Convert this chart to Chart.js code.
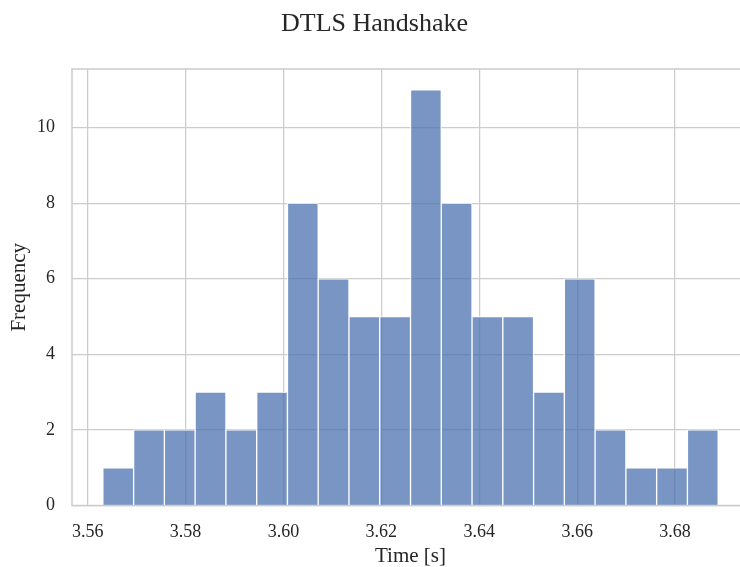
<!DOCTYPE html>
<html>
<head>
<meta charset="utf-8">
<title>DTLS Handshake</title>
<script src="https://cdn.jsdelivr.net/npm/chart.js@4.4.1/dist/chart.umd.min.js"></script>
<style>
  html, body { margin: 0; padding: 0; background: #fff; overflow: hidden; }
  #wrap { width: 760px; height: 567px; }
</style>
</head>
<body>
<div id="wrap"><canvas id="hist"></canvas></div>
<script>
// DTLS handshake durations, 20-bin histogram
const binEdges = [3.56310, 3.56939, 3.57567, 3.58196, 3.58824, 3.59453, 3.60081,
                  3.60710, 3.61338, 3.61967, 3.62595, 3.63224, 3.63852, 3.64481,
                  3.65109, 3.65738, 3.66366, 3.66995, 3.67623, 3.68252, 3.68880];
const counts = [1, 2, 2, 3, 2, 3, 8, 6, 5, 5, 11, 8, 5, 5, 3, 6, 2, 1, 1, 2];
const xTicks = [3.56, 3.58, 3.60, 3.62, 3.64, 3.66, 3.68];
const yTicks = [0, 2, 4, 6, 8, 10];

const SERIF = "'Liberation Serif', 'DejaVu Serif', serif";
const INK = '#262626';
const GRID = '#cccccc';

// bars sit on bin centres of a linear x axis
const points = counts.map((c, i) => ({ x: (binEdges[i] + binEdges[i + 1]) / 2, y: c }));

// seaborn-style frame: light grey spines on all sides
const spines = {
  id: 'spines',
  afterDraw(chart) {
    const { ctx, chartArea: a } = chart;
    ctx.save();
    ctx.strokeStyle = GRID;
    ctx.lineWidth = 1.5;
    ctx.strokeRect(a.left, a.top, a.right - a.left, a.bottom - a.top);
    ctx.restore();
  }
};

new Chart(document.getElementById('hist'), {
  type: 'bar',
  data: {
    datasets: [{
      data: points,
      backgroundColor: 'rgba(76,114,176,0.75)',
      borderColor: '#ffffff',
      borderWidth: 1,
      barPercentage: 1,
      categoryPercentage: 1
    }]
  },
  options: {
    responsive: true,
    maintainAspectRatio: false,
    animation: false,
    layout: { padding: { left: 0, right: 11, top: 0, bottom: 0 } },
    plugins: {
      legend: { display: false },
      tooltip: { enabled: false },
      title: {
        display: true,
        text: 'DTLS Handshake',
        color: INK,
        font: { family: SERIF, size: 26, weight: 'normal', lineHeight: 1 },
        padding: { top: 11, bottom: 32 }
      }
    },
    scales: {
      x: {
        type: 'linear',
        min: 3.5568,
        max: 3.6951,
        offset: false,
        afterBuildTicks: s => { s.ticks = xTicks.map(v => ({ value: v })); },
        afterFit: s => { s.height = 61.5; },
        grid: { color: GRID, lineWidth: 1.25, drawTicks: false, offset: false },
        border: { display: false },
        ticks: {
          color: INK,
          font: { family: SERIF, size: 18 },
          padding: 16,
          maxRotation: 0,
          callback: v => v.toFixed(2)
        },
        title: {
          display: true,
          text: 'Time [s]',
          color: INK,
          font: { family: SERIF, size: 21, lineHeight: 1 },
          padding: { top: 0.5, bottom: 0.5 }
        }
      },
      y: {
        min: 0,
        max: 11.55,
        afterBuildTicks: s => { s.ticks = yTicks.map(v => ({ value: v })); },
        afterFit: s => { s.width = 72; },
        grid: { color: GRID, lineWidth: 1.25, drawTicks: false },
        border: { display: false },
        ticks: {
          color: INK,
          font: { family: SERIF, size: 18 },
          padding: 17,
          callback: v => String(v)
        },
        title: {
          display: true,
          text: 'Frequency',
          color: INK,
          font: { family: SERIF, size: 21, lineHeight: 1 },
          padding: { top: 9, bottom: 9 }
        }
      }
    }
  },
  plugins: [spines]
});
</script>
</body>
</html>
